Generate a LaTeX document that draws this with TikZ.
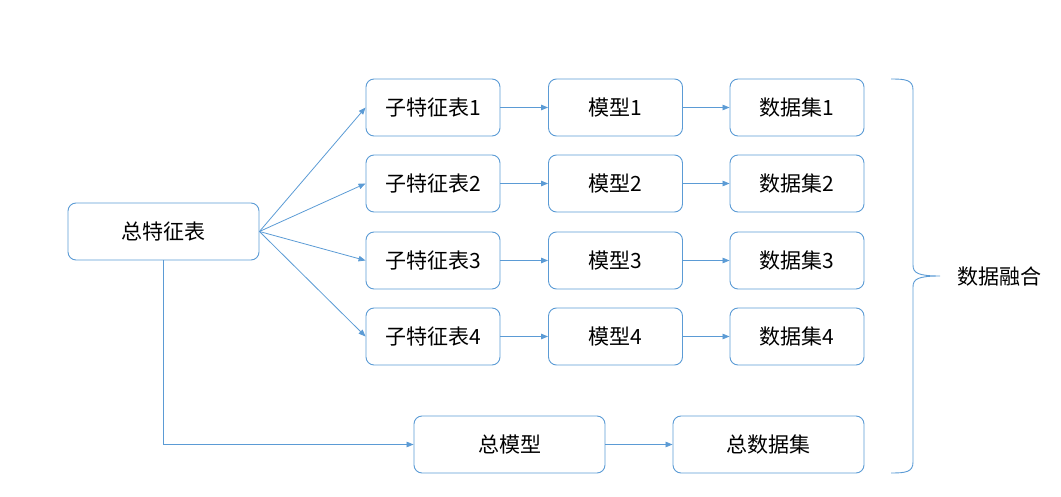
\documentclass[tikz,border=0pt]{standalone}
\usepackage{fontspec}
\setmainfont{Noto Sans CJK SC}
\usetikzlibrary{arrows.meta}
\definecolor{lineblue}{HTML}{5B9BD5}
\tikzset{
	box/.style={draw=lineblue, line width=0.9pt, rounded corners=8pt, minimum height=57pt, inner sep=0pt, font=\fontsize{21}{24}\selectfont},
	smallbox/.style={box, minimum width=134pt},
	bigbox/.style={box, minimum width=191pt},
	link/.style={draw=lineblue, line width=0.8pt, -{Triangle[length=7pt,width=5.5pt]}}
}
\begin{document}
\begin{tikzpicture}[x=1pt, y=-1pt]
		\useasboundingbox (0,0) rectangle (1061,497);

		\node[bigbox] (all) at (163.5,231.5) {总特征表};

		\foreach \i/\y in {1/107.5, 2/183.5, 3/260.5, 4/336.5} {
			\node[smallbox] (sub\i) at (433,\y) {子特征表\i};
			\node[smallbox] (model\i) at (615.5,\y) {模型\i};
			\node[smallbox] (data\i) at (797,\y) {数据集\i};
			\draw[link] (all.east) -- (sub\i.west);
			\draw[link] (sub\i) -- (model\i);
			\draw[link] (model\i) -- (data\i);
		}

		\node[bigbox] (allmodel) at (509.5,444.5) {总模型};
		\node[bigbox] (alldata) at (768.5,444.5) {总数据集};

		\draw[link] (all.south) |- (allmodel.west);
		\draw[link] (allmodel) -- (alldata);

		% brace
		\draw[lineblue, line width=0.9pt] (891,79) .. controls (906,79) and (913,80) .. (913,90)
			-- (913,265) .. controls (913,273) and (918,276) .. (940,276)
			(913,287) .. controls (913,279) and (918,276) .. (940,276)
			(913,287) -- (913,462) .. controls (913,472) and (906,473) .. (891,473);
		\node[font=\fontsize{21}{24}\selectfont] (merge) at (999,277) {数据融合};
	\end{tikzpicture}
\end{document}
